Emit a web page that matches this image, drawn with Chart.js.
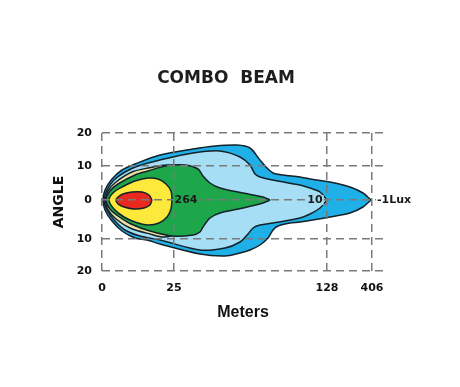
<!DOCTYPE html>
<html>
<head>
<meta charset="utf-8">
<script src="https://cdn.jsdelivr.net/npm/chart.js@4.4.1/dist/chart.umd.min.js"></script>
<style>
  html, body { margin: 0; padding: 0; background: #fff; }
  #wrap { width: 460px; height: 387px; }
</style>
</head>
<body>
<div id="wrap"><canvas id="beam" width="460" height="387"></canvas></div>
<script>
// axis positions are in chart units, the labels are what the drawing prints
const xTickPos = [0, 72, 225, 270];
const xTickLabels = ['0', '25', '128', '406'];
const yTickPos = [67, 34, 0, -39, -71];
const yTickLabels = ['20', '10', '0', '10', '20'];

// contours, [meters unit, angle unit]
const lux1 = [[269,0],[261,7],[248,13],[228,18],[208,21],[198,23],[181,25],[171,27],[165,32],[158,40],[148,52],[135,55],[113,54],[91,51],[58,45],[33,36],[20,30],[10,21],[3,10],[1,0],
  [3,-10],[10,-21],[20,-31],[33,-38],[45,-40],[58,-44],[98,-54],[123,-56],[138,-53],[148,-50],[158,-45],[166,-38],[171,-30],[176,-26],[188,-23],[198,-22],[228,-17],[248,-13],[261,-7],[269,0]];
const lux10 = [[225,0],[218,8],[208,12],[198,15],[171,20],[158,23],[153,26],[148,35],[138,43],[118,49],[91,47],[58,40],[36,34],[23,28],[12,20],[5,10],[2,0],
  [5,-10],[12,-20],[23,-30],[38,-36],[58,-40],[98,-50],[123,-48],[138,-42],[146,-34],[151,-28],[158,-25],[171,-23],[198,-18],[208,-14],[218,-8],[225,0]];
const luxBand = [[3,0],[6,9],[14,18],[30,28],[46,32],[66,35],[80,30],[80,-30],[63,-37],[48,-34],[28,-28],[14,-19],[6,-10],[3,0]];
const lux264 = [[168,0],[161,3],[141,7],[118,12],[108,17],[101,24],[96,31],[83,35],[63,34],[46,29],[33,25],[16,16],[8,9],[4,0],
  [8,-9],[16,-16],[29,-24],[48,-31],[71,-36],[91,-35],[98,-32],[101,-27],[108,-18],[118,-13],[141,-8],[161,-3],[168,0]];
const luxHigh = [[70,0],[69,9],[64,16],[56,21],[46,22],[33,19],[22,14],[12,8],[7,0],[12,-9],[22,-17],[33,-22],[46,-25],[57,-23],[65,-17],[69,-9],[70,0]];
const luxPeak = [[50,0],[47,5],[40,8],[30,8],[21,6],[16,3],[14,0],[16,-4],[22,-7],[32,-9],[42,-8],[48,-5],[50,0]];

const zoneData = [lux1, lux10, luxBand, lux264, luxHigh, luxPeak];
const zoneColors = ['#1fb0e8', '#a5def5', '#efe2a2', '#1ea64a', '#fde83c', '#e8291f'];

const markTexts = ['264', '10', '-1Lux'];
const markX = [84, 213, 275];
const markY = [0, 0, 0];
const markBg = ['#1ea64a', '#a5def5', '#ffffff'];
const markAlign = ['center', 'center', 'left'];

const datasets = zoneData.map((pts, i) => ({
  data: pts.map(p => ({ x: p[0], y: p[1] })),
  backgroundColor: zoneColors[i],
  borderColor: '#14222a',
  borderWidth: 1.5,
  fill: 'shape',
  tension: 0.3,
  pointRadius: 0,
  order: zoneData.length - i
}));

const markLabels = {
  id: 'markLabels',
  afterDraw(chart) {
    const { ctx, scales } = chart;
    ctx.save();
    ctx.font = 'bold 11px "DejaVu Sans"';
    ctx.textBaseline = 'middle';
    markTexts.forEach((t, i) => {
      const px = scales.x.getPixelForValue(markX[i]);
      const py = scales.y.getPixelForValue(markY[i]);
      const w = ctx.measureText(t).width;
      const left = markAlign[i] === 'center' ? px - w / 2 : px;
      ctx.fillStyle = markBg[i];
      ctx.fillRect(left - 1, py - 5, w + 2, 10);
      ctx.fillStyle = '#1a1a1a';
      ctx.textAlign = 'left';
      ctx.fillText(t, left, py + 0.5);
    });
    ctx.restore();
  }
};

const tickFont = { family: 'DejaVu Sans', weight: 'bold', size: 11 };

new Chart(document.getElementById('beam'), {
  type: 'line',
  data: { datasets },
  plugins: [markLabels],
  options: {
    responsive: false,
    animation: false,
    layout: { padding: { left: 0, right: 8, top: 0, bottom: 0 } },
    plugins: {
      legend: { display: false },
      tooltip: { enabled: false },
      title: {
        display: true,
        text: 'COMBO  BEAM',
        color: '#1e1e1e',
        font: { family: 'DejaVu Sans', weight: 'bold', size: 17, lineHeight: 1.2 },
        padding: { top: 68, bottom: 44.6 }
      }
    },
    scales: {
      x: {
        type: 'linear',
        min: 0,
        max: 282,
        afterBuildTicks: s => { s.ticks = xTickPos.map(v => ({ value: v })); },
        afterFit: s => { s.height = 116; },
        ticks: {
          autoSkip: false,
          maxRotation: 0,
          padding: 11,
          color: '#111',
          font: tickFont,
          callback: v => xTickLabels[xTickPos.indexOf(v)] || ''
        },
        grid: { color: '#7a7a7a', lineWidth: 1.5, drawTicks: false, z: 1 },
        border: { display: false, dash: [8, 5] },
        title: {
          display: true,
          text: 'Meters',
          color: '#111',
          font: { family: 'Liberation Sans', weight: 'bold', size: 16, lineHeight: 1.2 },
          padding: { top: 0, bottom: 65 }
        }
      },
      y: {
        type: 'linear',
        min: -71,
        max: 67,
        afterBuildTicks: s => { s.ticks = yTickPos.map(v => ({ value: v })); },
        afterFit: s => { s.width = 102; },
        ticks: {
          autoSkip: false,
          padding: 10,
          color: '#111',
          font: tickFont,
          callback: v => yTickLabels[yTickPos.indexOf(v)] || ''
        },
        grid: { color: '#7a7a7a', lineWidth: 1.5, drawTicks: false, z: 1 },
        border: { display: false, dash: [8, 5] },
        title: {
          display: true,
          text: 'ANGLE',
          color: '#111',
          font: { family: 'DejaVu Sans', weight: 'bold', size: 14, lineHeight: 1.2 },
          padding: { top: 51, bottom: 0 }
        }
      },
      // empty right-hand strip so the title sits where the original has it
      yRight: {
        position: 'right',
        grid: { display: false },
        border: { display: false },
        ticks: { display: false },
        afterFit: s => { s.width = 68; }
      }
    }
  }
});
</script>
</body>
</html>
